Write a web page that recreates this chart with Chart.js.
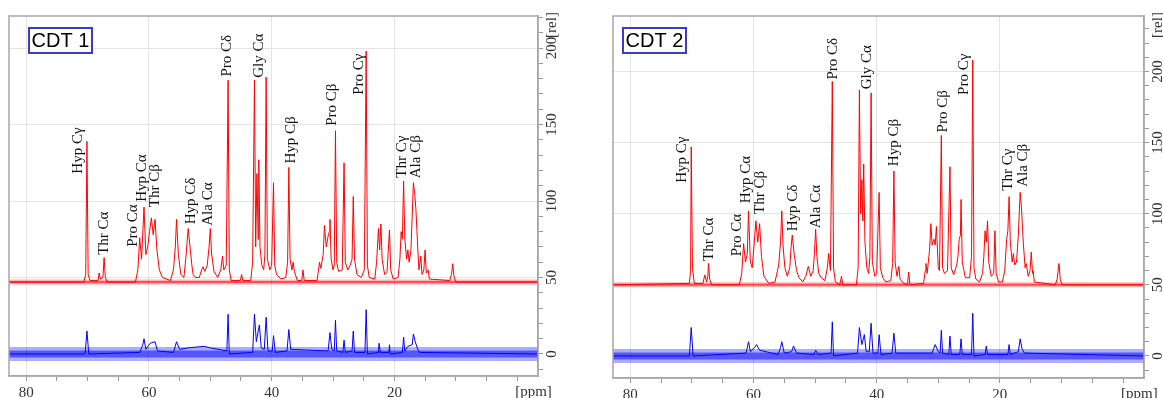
<!DOCTYPE html>
<html>
<head>
<meta charset="utf-8">
<script src="https://cdn.jsdelivr.net/npm/chart.js@4.4.0/dist/chart.umd.min.js"></script>
<style>
body{margin:0;background:#fff;}
#c1{position:absolute;left:0;top:0;}
#c2{position:absolute;left:578px;top:0;}
</style>
</head>
<body>
<canvas id="c1" width="575" height="398"></canvas>
<canvas id="c2" width="585" height="398"></canvas>
<script>
// peak names, same order for both spectra
var peakNames = ['Hyp C\u03b3','Thr C\u03b1','Pro C\u03b1','Hyp C\u03b1','Thr C\u03b2','Hyp C\u03b4','Ala C\u03b1',
                 'Pro C\u03b4','Gly C\u03b1','Hyp C\u03b2','Pro C\u03b2','Pro C\u03b3','Thr C\u03b3','Ala C\u03b2'];

// where each peak name sits, [ppm] and [rel]
var cdt1LabelPpm = [71.5, 67.3, 62.6, 61.1, 59.0, 53.2, 50.4, 47.2, 42.1, 36.9, 30.1, 25.7, 18.7, 16.4];
var cdt1LabelVal = [133, 79, 84, 115, 110, 100, 98, 195, 195, 140, 163, 183, 129, 129];
var cdt2LabelPpm = [71.6, 67.2, 62.7, 61.2, 59.0, 53.5, 49.9, 47.1, 41.5, 37.1, 29.3, 25.8, 18.6, 16.3];
var cdt2LabelVal = [138, 82, 85, 124, 115, 104, 105, 209, 203, 150, 172, 198, 131, 134];

var xMajor = [80, 60, 40, 20];
var yMajor = [0, 50, 100, 150, 200];

// CDT 1, upper (red) trace, [ppm, rel]
var cdt1Red = [[82.8,47],[70.6,47],[70.3,52],[70.1,139],[69.9,52],[69.6,48],
 [68.3,48],[68.1,53],[67.9,49],[67.5,50],[67.3,63],[67.1,50],[66.8,47],
 [62.2,47],[61.8,55],[61.5,76],[61.2,62],[60.8,96],[60.5,65],[60.2,70],[59.9,80],[59.6,89],[59.3,78],[59.0,88],[58.7,68],[58.3,55],[57.8,50],[56.5,48],
 [56.0,55],[55.7,70],[55.5,88],[55.2,65],[54.8,52],[54.3,50],[54.0,62],[53.8,72],[53.6,82],[53.3,70],[53.0,58],[52.8,52],[52.4,50],[51.8,50],[51.4,55],[51.2,57],[50.9,54],[50.5,58],[50.2,70],[50.0,82],[49.8,66],[49.4,54],[48.8,50],[48.3,55],[48.0,64],[47.8,55],[47.4,58],[47.1,179],[46.9,55],[46.6,48],
 [45.1,48],[44.9,52],[44.7,48],[43.4,48],[43.1,60],[42.8,179],[42.6,70],[42.4,118],[42.2,75],[42.1,127],[41.9,70],[41.6,58],[41.3,55],[41.1,65],[40.9,181],[40.7,62],[40.3,55],[40.0,58],[39.7,112],[39.5,58],[39.2,52],[38.5,49],
 [37.7,50],[37.4,60],[37.2,122],[37.0,62],[36.7,55],[36.5,60],[36.3,54],[35.8,48],[35.1,48],[34.9,55],[34.7,48],
 [32.6,48],[32.2,60],[32.0,56],[31.6,65],[31.4,84],[31.1,70],[30.8,77],[30.6,80],[30.5,88],[30.3,62],[30.0,55],[29.8,58],[29.6,146],[29.4,60],[29.1,54],[28.5,55],[28.2,125],[28.0,60],[27.6,55],[27.2,58],[26.9,62],[26.7,103],[26.5,62],[26.1,52],[25.4,50],[24.9,55],[24.6,198],[24.4,58],[24.1,50],
 [23.2,49],[22.9,60],[22.6,82],[22.4,68],[22.2,85],[22.0,62],[21.6,52],[21.2,54],[20.8,81],[20.6,55],[20.2,49],[19.4,50],[19.1,62],[18.9,80],[18.7,75],[18.5,113],[18.3,75],[18.0,62],[17.8,68],[17.6,60],[17.3,68],[17.1,90],[16.9,112],[16.7,105],[16.5,95],[16.2,70],[16.0,55],[15.7,64],[15.5,52],[15.2,55],[15.0,68],[14.8,53],[14.5,55],[14.3,49],
 [11.0,48],[10.7,52],[10.5,59],[10.3,51],[10.0,47],[-3.4,47]];

// CDT 1, lower (blue) trace
var cdt1Blue = [[82.8,0],[70.4,0],[70.1,15],[69.8,0],[61.5,1],[61.0,6],[60.8,10],[60.5,3],[59.8,7],[59.0,8],[58.6,2],[56.0,1],[55.5,8],[55.0,3],[53.6,4],[51.0,5],[50.0,4],
 [47.3,2],[47.1,26],[46.9,0],[43.1,1],[42.8,26],[42.5,8],[42.0,19],[41.7,4],[41.2,3],[40.9,24],[40.6,2],[39.9,2],[39.7,12],[39.4,1],[37.5,2],[37.2,16],[36.9,3],
 [30.8,2],[30.5,14],[30.2,3],[29.8,2],[29.6,22],[29.4,2],[28.4,1],[28.2,9],[28.0,1],[26.9,2],[26.7,15],[26.5,1],[24.8,1],[24.6,29],[24.4,0],
 [22.6,1],[22.5,7],[22.3,1],[20.9,1],[20.8,6],[20.7,0],[18.7,1],[18.5,11],[18.3,2],[17.8,5],[17.1,6],[16.9,13],[16.6,8],[16.2,3],[15.9,1],[-3.4,0]];

// CDT 2, upper (red) trace
var cdt2Red = [[82.8,50],[70.4,51],[70.2,60],[70.1,147],[69.9,62],[69.6,51],[68.2,51],[67.9,57],[67.6,52],[67.4,56],[67.3,65],[67.1,54],[66.8,50],
 [62.3,50],[61.9,58],[61.6,79],[61.3,66],[61.0,72],[60.8,102],[60.5,66],[60.2,62],[59.9,78],[59.6,95],[59.3,80],[59.0,93],[58.7,70],[58.3,56],[57.5,51],
 [56.5,52],[56.1,60],[55.9,64],[55.6,80],[55.4,102],[55.2,78],[54.9,62],[54.5,56],[54.1,62],[53.9,76],[53.7,85],[53.4,72],[53.0,60],[52.6,55],[52.0,52],[51.5,56],[51.1,63],[50.7,56],[50.3,60],[50.1,72],[49.9,89],[49.7,70],[49.4,58],[49.0,55],[48.4,53],[48.0,62],[47.8,72],[47.5,60],[47.2,193],[47.0,62],[46.7,52],[46.0,50],[45.7,56],[45.5,50],
 [43.3,50],[43.0,62],[42.8,187],[42.6,100],[42.4,124],[42.25,95],[42.1,135],[41.9,80],[41.6,62],[41.3,58],[41.1,70],[40.9,185],[40.7,66],[40.3,56],[40.0,58],[39.6,115],[39.4,62],[39.0,55],[38.5,52],
 [37.7,53],[37.4,65],[37.2,130],[37.0,66],[36.7,56],[36.4,63],[36.2,54],[35.6,51],[35.0,50],[34.8,59],[34.6,50],
 [32.4,51],[32.1,60],[32.0,65],[31.8,58],[31.4,75],[31.2,93],[31.0,78],[30.7,82],[30.5,78],[30.3,91],[30.0,62],[29.8,60],[29.5,155],[29.3,62],[29.0,58],[28.5,60],[28.1,133],[27.9,62],[27.5,57],[27.0,64],[26.8,70],[26.6,82],[26.4,85],[26.3,110],[26.1,66],[25.6,55],[24.9,55],[24.6,70],[24.4,208],[24.2,62],[23.9,54],
 [23.3,52],[22.8,58],[22.6,70],[22.4,88],[22.2,80],[22.0,95],[21.8,66],[21.4,56],[21.0,58],[20.8,88],[20.6,58],[20.2,52],[19.6,52],[19.2,60],[18.9,82],[18.7,88],[18.5,112],[18.3,80],[18.0,66],[17.8,72],[17.6,64],[17.3,66],[17.0,85],[16.7,115],[16.5,105],[16.2,80],[15.9,62],[15.7,65],[15.4,56],[15.1,60],[14.9,73],[14.7,58],[14.6,60],[14.4,52],
 [11.0,50],[10.7,54],[10.4,65],[10.2,54],[9.9,50],[-3.6,50]];

// CDT 2, lower (blue) trace
var cdt2Blue = [[82.8,0],[70.4,0],[70.1,20],[69.8,0],[61.2,2],[60.8,10],[60.5,3],[59.8,6],[59.5,8],[59.0,4],[56.0,1],[55.6,6],[55.4,10],[55.0,2],[53.8,3],[53.5,7],[53.0,2],[50.2,1],[49.9,4],[49.5,1],
 [47.4,2],[47.2,24],[47.0,0],[43.1,2],[42.8,20],[42.4,8],[42.0,15],[41.7,3],[41.2,3],[40.9,23],[40.6,2],[39.8,2],[39.6,15],[39.3,1],[37.5,2],[37.2,16],[36.9,2],
 [31.0,2],[30.5,8],[30.0,3],[29.7,2],[29.5,18],[29.3,2],[28.3,1],[28.1,14],[27.9,1],[26.5,1],[26.3,12],[26.1,1],[24.6,1],[24.4,30],[24.2,0],
 [22.4,1],[22.2,7],[22.0,1],[18.7,1],[18.5,8],[18.3,1],[17.0,3],[16.7,12],[16.4,5],[16.0,2],[-3.6,0]];

// baseline levels (noise band) of the two traces
var cdt1Base = [47, 0];
var cdt2Base = [50, 0];

function pts(arr){ return arr.map(function(p){ return {x:p[0], y:p[1]}; }); }

var serif = '"Liberation Serif", "Times New Roman", serif';

var panelPlugin = {
  id: 'panel',
  afterDatasetsDraw: function(chart, args, o){
    var ctx = chart.ctx, xs = chart.scales.x, ys = chart.scales.y;
    ctx.save();
    ctx.font = '15px ' + serif;
    ctx.fillStyle = '#111';
    ctx.textAlign = 'center';
    ctx.textBaseline = 'middle';
    for (var i = 0; i < o.names.length; i++) {
      ctx.save();
      ctx.translate(xs.getPixelForValue(o.ppm[i]), ys.getPixelForValue(o.val[i]));
      ctx.rotate(-Math.PI/2);
      ctx.fillText(o.names[i], 0, 0);
      ctx.restore();
    }
    ctx.restore();
  },
  afterDraw: function(chart, args, o){
    var ctx = chart.ctx, a = chart.chartArea, xs = chart.scales.x, ys = chart.scales.y;
    ctx.save();
    // frame
    ctx.strokeStyle = '#a8a8a8';
    ctx.lineWidth = 1.5;
    ctx.strokeRect(a.left, a.top, a.right - a.left, a.bottom - a.top);
    // right axis labels, rotated
    ctx.font = '15px ' + serif;
    ctx.fillStyle = '#333';
    ctx.textAlign = 'center';
    ctx.textBaseline = 'middle';
    yMajor.forEach(function(v){
      ctx.save();
      ctx.translate(a.right + 14, ys.getPixelForValue(v));
      ctx.rotate(-Math.PI/2);
      ctx.fillText(String(v), 0, 0);
      ctx.restore();
    });
    ctx.save();
    ctx.translate(a.right + 14, a.top + 9);
    ctx.rotate(-Math.PI/2);
    ctx.fillText('[rel]', 0, 0);
    ctx.restore();
    ctx.textAlign = 'left';
    ctx.textBaseline = 'top';
    ctx.fillText('[ppm]', xs.getPixelForValue(0) - 2, a.bottom + 9);
    // sample box
    var bx = a.left + o.boxX, by = a.top + 12;
    ctx.fillStyle = '#fff';
    ctx.fillRect(bx, by, 63, 25);
    ctx.strokeStyle = '#3b3bc4';
    ctx.lineWidth = 2;
    ctx.strokeRect(bx, by, 63, 25);
    ctx.fillStyle = '#000';
    ctx.font = '20px "Liberation Sans", Arial, sans-serif';
    ctx.textAlign = 'center';
    ctx.textBaseline = 'middle';
    ctx.fillText(o.title, bx + 31.5, by + 13.5);
    ctx.restore();
  }
};

function band(level, color, width){
  return { data: pts([[83, level], [-4, level]]), borderColor: color, borderWidth: width, pointRadius: 0 };
}

function makeChart(id, title, red, blue, base, lblPpm, lblVal, yMin, yMax, pad, yWidth, xHeight, boxX){
  return new Chart(document.getElementById(id), {
    type: 'line',
    data: {
      datasets: [
        { data: pts(red), borderColor: 'rgb(255,0,0)', borderWidth: 1, pointRadius: 0, tension: 0 },
        { data: pts(blue), borderColor: 'rgb(0,0,255)', borderWidth: 1, pointRadius: 0, tension: 0 },
        band(base[0], 'rgba(255,0,0,0.55)', 2),
        band(base[0], 'rgba(255,0,0,0.3)', 5),
        band(base[1], 'rgba(0,0,255,0.5)', 7),
        band(base[1], 'rgba(0,0,255,0.32)', 14)
      ]
    },
    options: {
      responsive: false,
      animation: false,
      devicePixelRatio: 1,
      layout: { padding: pad },
      plugins: {
        legend: { display: false },
        tooltip: { enabled: false },
        panel: { title: title, names: peakNames, ppm: lblPpm, val: lblVal, boxX: boxX }
      },
      scales: {
        x: {
          type: 'linear', reverse: true, min: -3.4, max: 82.8,
          afterFit: function(s){ s.height = xHeight; },
          border: { color: '#a8a8a8', width: 1.5 },
          grid: {
            color: function(c){ return c.tick && xMajor.indexOf(c.tick.value) >= 0 ? '#e4e4e4' : 'rgba(0,0,0,0)'; },
            tickColor: '#999', tickLength: 5
          },
          ticks: {
            stepSize: 5, includeBounds: false, autoSkip: false, maxRotation: 0, padding: 3,
            color: '#333', font: { family: serif, size: 15 },
            callback: function(v){ return xMajor.indexOf(v) >= 0 ? String(v) : ''; }
          }
        },
        y: {
          position: 'right', min: yMin, max: yMax,
          afterFit: function(s){ s.width = yWidth; },
          border: { color: '#a8a8a8', width: 1.5 },
          grid: {
            color: function(c){ return c.tick && c.tick.value > 0 && yMajor.indexOf(c.tick.value) >= 0 ? '#e4e4e4' : 'rgba(0,0,0,0)'; },
            tickColor: '#999', tickLength: 5
          },
          ticks: { stepSize: 10, includeBounds: false, display: false }
        }
      }
    },
    plugins: [panelPlugin]
  });
}

makeChart('c1', 'CDT 1', cdt1Red, cdt1Blue, cdt1Base, cdt1LabelPpm, cdt1LabelVal, -14.4, 221,
  { left: 9, top: 16, right: 7, bottom: 0 }, 30, 22, 20);
makeChart('c2', 'CDT 2', cdt2Red, cdt2Blue, cdt2Base, cdt2LabelPpm, cdt2LabelVal, -15.5, 239,
  { left: 35, top: 16, right: 0, bottom: 0 }, 19, 20, 10);
</script>
</body>
</html>
